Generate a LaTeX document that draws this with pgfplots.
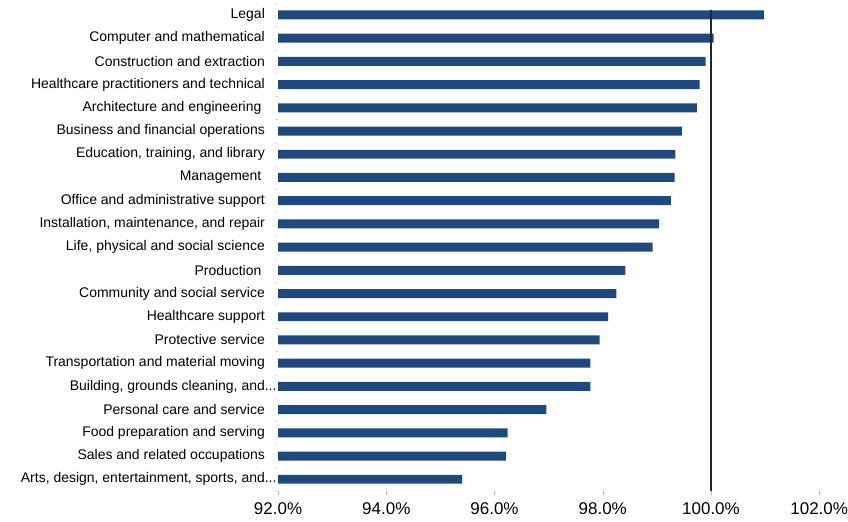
\documentclass[border=0pt]{standalone}
\usepackage{pgfplots}
\pgfplotsset{compat=1.18}
\usepackage{fontspec}
\setmainfont{Liberation Sans}
\definecolor{barblue}{HTML}{1F497D}
\newcommand{\ddd}{\rlap{{.}{.}{.}}}
\begin{document}
\begin{tikzpicture}
\begin{axis}[
  name=ax,
  scale only axis,
  width=542pt, height=488.25pt,
  xmin=92, xmax=102,
  ymin=-0.5, ymax=20.5,
  axis line style={draw=none},
  xtick={92,94,96,98,100,102},
  xticklabels={92.0\%,94.0\%,96.0\%,98.0\%,100.0\%,102.0\%},
  xtick pos=bottom, ytick pos=left,
  tick align=outside,
  major tick length=4pt,
  minor tick length=3pt,
  xtick style={draw=gray!60},
  x tick label style={font=\fontsize{17}{19}\selectfont, anchor=north, inner sep=0pt, yshift=-8pt},
  ytick={0,1,2,3,4,5,6,7,8,9,10,11,12,13,14,15,16,17,18,19,20},
  minor ytick={-0.5,0.5,1.5,2.5,3.5,4.5,5.5,6.5,7.5,8.5,9.5,10.5,11.5,12.5,13.5,14.5,15.5,16.5,17.5,18.5,19.5,20.5},
  y tick style={draw=none},
  minor y tick style={draw=gray!25},
  yticklabels={
    {Arts, design, entertainment, sports, and\ddd},
    {Sales and related occupations},
    {Food preparation and serving},
    {Personal care and service},
    {Building, grounds cleaning, and\ddd},
    {Transportation and material moving},
    {Protective service},
    {Healthcare support},
    {Community and social service},
    {Production\hspace*{3.5pt}},
    {Life, physical and social science},
    {Installation, maintenance, and repair},
    {Office and administrative support},
    {Management\hspace*{3.5pt}},
    {Education, training, and library},
    {Business and financial operations},
    {Architecture and engineering\hspace*{3.5pt}},
    {Healthcare practitioners and technical},
    {Construction and extraction},
    {Computer and mathematical},
    {Legal}},
  y tick label style={font=\fontsize{14}{16}\selectfont, anchor=east, inner sep=0pt, xshift=-9pt},
  clip=false,
]
\addplot[xbar, bar width=9pt, bar shift=0pt, draw=none, fill=barblue] coordinates {
 (95.40,0) (96.21,1) (96.24,2) (96.96,3) (97.77,4) (97.77,5) (97.94,6)
 (98.10,7) (98.25,8) (98.42,9) (98.92,10) (99.04,11) (99.26,12) (99.33,13)
 (99.34,14) (99.46,15) (99.74,16) (99.79,17) (99.90,18) (100.05,19) (100.98,20)
};
\addplot[black!85, line width=1.8pt, no markers] coordinates {(100,-0.5) (100,20.2)};
\end{axis}
\path (ax.south west) ++(-278.5pt,-30.375pt) coordinate (bbsw);
\path (ax.north east) ++(27.5pt,3.375pt) coordinate (bbne);
\path[use as bounding box] (bbsw) rectangle (bbne);
\end{tikzpicture}
\end{document}
